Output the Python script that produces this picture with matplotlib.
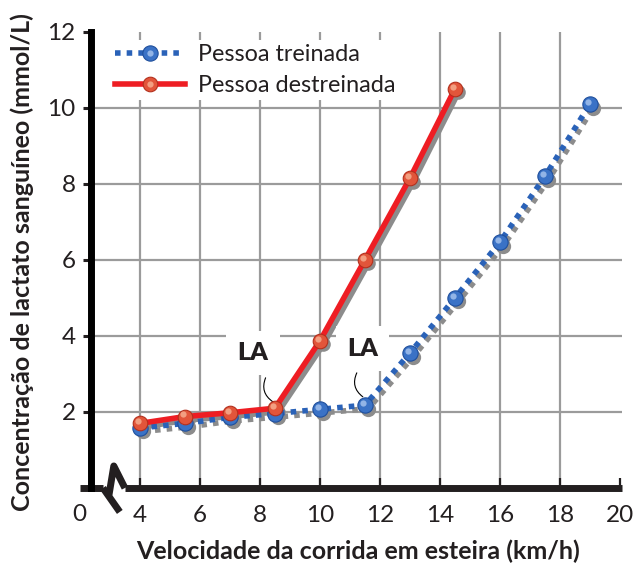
import numpy as np
import matplotlib.pyplot as plt
from matplotlib.transforms import ScaledTranslation

plt.rcParams['font.family'] = ['Lato', 'DejaVu Sans']

# data
speed_trained = [4, 5.5, 7, 8.5, 10, 11.5, 13, 14.5, 16, 17.5, 19]
lactate_trained = [1.58, 1.7, 1.86, 1.96, 2.07, 2.18, 3.55, 5.0, 6.47, 8.2, 10.1]
speed_untrained = [4, 5.5, 7, 8.5, 10, 11.5, 13, 14.5]
lactate_untrained = [1.7, 1.88, 1.98, 2.1, 3.87, 6.0, 8.15, 10.5]

x_ticks = [4, 6, 8, 10, 12, 14, 16, 18, 20]
y_ticks = [2, 4, 6, 8, 10, 12]
x_grid = [4, 6, 8, 10, 12, 14, 16, 18]
y_grid = [2, 4, 6, 8, 10]

la_text = [(7.77, 3.55), (11.42, 3.67)]
la_leader = [((8.19, 2.9), (8.43, 2.27)), ((11.23, 3.03), (11.43, 2.4))]

labels = ['Pessoa treinada', 'Pessoa destreinada']

blue = '#2a62b8'
red = '#ee1d23'
grid_c = '#9b9b9b'
txt_c = '#231f20'

fig = plt.figure(figsize=(6.38, 5.67), dpi=100)
ax = fig.add_axes([91/638, 79/567, 531/638, 456/567])
ax.set_xlim(2.37, 20.07)
ax.set_ylim(0, 12)

# grid drawn by hand (no line at 12 nor at 20)
ax.vlines(x_grid, 0, 12, color=grid_c, lw=1.6, zorder=1)
ax.hlines(y_grid, 2.37, 20.07, color=grid_c, lw=1.6, zorder=1)

shadow = ax.transData + ScaledTranslation(2.5/72, -2.5/72, fig.dpi_scale_trans)
hl = ax.transData + ScaledTranslation(-1.5/72, 1.5/72, fig.dpi_scale_trans)

# shadows
ax.plot(speed_trained, lactate_trained, color='#8c8c8c', lw=4, ls=(0, (1, 1.1)),
        dash_capstyle='butt', marker='o', ms=11, mec='none', transform=shadow, zorder=2)
ax.plot(speed_untrained, lactate_untrained, color='#8c8c8c', lw=4,
        marker='o', ms=10.5, mec='none', transform=shadow, zorder=2)

l1, = ax.plot(speed_trained, lactate_trained, color=blue, lw=4, ls=(0, (1, 1.1)),
              dash_capstyle='butt', marker='o', ms=11, mfc='#3a72c6', mec='#1f4f9c',
              mew=0.8, zorder=3)
h1, = ax.plot(speed_trained, lactate_trained, ls='none', marker='o', ms=4.5,
              mfc='#a9c6ef', mec='none', alpha=0.8, transform=hl, zorder=3.1)
l2, = ax.plot(speed_untrained, lactate_untrained, color=red, lw=4,
              marker='o', ms=10.5, mfc='#e2553a', mec='#b3301d', mew=0.8, zorder=4)
h2, = ax.plot(speed_untrained, lactate_untrained, ls='none', marker='o', ms=4.5,
              mfc='#f7b294', mec='none', alpha=0.8, transform=hl, zorder=4.1)

# LA labels
for (tx, ty), (p0, p1) in zip(la_text, la_leader):
    ax.text(tx, ty, 'LA', fontsize=18, fontweight='heavy', ha='center', va='center',
            color=txt_c, zorder=2.5,
            bbox=dict(boxstyle='square,pad=0.45', fc='white', ec='none'))
    ax.annotate('', xy=p1, xytext=p0,
                arrowprops=dict(arrowstyle='-', color='black', lw=0.8,
                                connectionstyle='arc3,rad=0.4',
                                shrinkA=0, shrinkB=0), zorder=2.6)

# axes: left spine thick, bottom drawn with a break mark
for s in ['top', 'right', 'bottom']:
    ax.spines[s].set_visible(False)
ax.spines['left'].set_linewidth(5)
ax.spines['left'].set_zorder(6)
ax.spines['left'].set_capstyle('projecting')

kw = dict(color=txt_c, lw=5, clip_on=False, zorder=6, solid_capstyle='butt')
ax.plot([2.0, 2.77], [0, 0], **kw)
ax.plot([3.5, 20.07], [0, 0], **kw)
ax.plot([2.77, 3.33], [0, -0.63], **kw)
ax.plot([2.97, 3.13, 3.5], [-0.18, 0.58, 0], **kw)

ax.set_xticks(x_ticks)
ax.set_yticks(y_ticks)
ax.tick_params(axis='x', direction='in', length=7, width=1.6, color=txt_c,
               labelsize=17.5, pad=12, labelcolor=txt_c)
ax.tick_params(axis='y', direction='out', length=6, width=2.2, color=txt_c,
               labelsize=17.5, pad=5, labelcolor=txt_c)
ax.text(1.97, -0.42, '0', fontsize=17.5, color=txt_c,
        ha='center', va='top', clip_on=False)

leg = ax.legend([(l1, h1), (l2, h2)], labels, loc='upper left',
                bbox_to_anchor=(0.037, 0.983), borderaxespad=0, borderpad=0.2,
                fontsize=16.8, handlelength=3.0, handletextpad=0.55, labelspacing=0.4,
                frameon=True, framealpha=1, edgecolor='none', facecolor='white',
                fancybox=False)
for t in leg.get_texts():
    t.set_color(txt_c)

fig.text(22/638, 1 - 262/567, 'Concentração de lactato sanguíneo (mmol/L)',
         rotation=90, ha='center', va='center', fontsize=18, fontweight='bold',
         color=txt_c)
fig.text(358/638, 1 - 551/567, 'Velocidade da corrida em esteira (km/h)',
         ha='center', va='center', fontsize=18, fontweight='bold', color=txt_c)

fig.savefig('out.png', dpi=100)
